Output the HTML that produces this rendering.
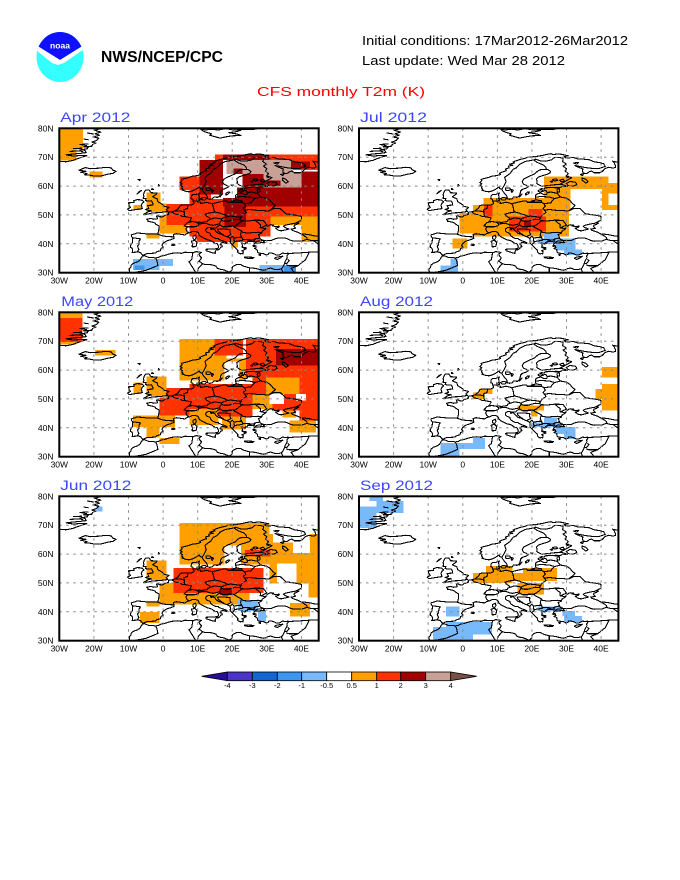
<!DOCTYPE html>
<html><head><meta charset="utf-8"><style>
html,body{margin:0;padding:0;background:#fff;}
svg{display:block;}
.o{fill:#ffa000}.r{fill:#ff3200}.d{fill:#a00000}.p{fill:#c8a096}.b{fill:#78b9fa}.c{fill:#3c96f0}.w{fill:#fff}
.ln{fill:none;stroke:#000;stroke-width:1.1;vector-effect:non-scaling-stroke;stroke-linejoin:round}
.lab{font-family:"Liberation Sans",sans-serif;font-size:8.5px;fill:#000}
.pt{font-family:"Liberation Sans",sans-serif;font-size:13.5px;fill:#3c46ff}
</style></head><body>
<svg width="680" height="880" viewBox="0 0 680 880" xmlns="http://www.w3.org/2000/svg">
<defs>
<path id="coast" class="ln" d="M-30,-68.6 L-28,-68.4 L-26,-68.9 L-24.5,-69.6 L-23,-70.2 L-22,-70.5 L-23.5,-70.6 L-26,-70.4 L-28,-70.8 L-26,-71.1 L-24,-71.3 L-22.2,-71.6 L-22.6,-72.4 L-24,-72.5 L-22,-72.9 L-21.6,-73.4 L-23,-73.6 L-20.6,-73.8 L-20.4,-74.4 L-19.4,-74.9 L-20.6,-75.2 L-19.2,-75.8 L-18.6,-76.6 L-20.2,-77 L-18.4,-77.6 L-19.6,-78.1 L-18,-78.7 L-19.8,-79.3 L-18.6,-79.7 L-17.6,-80
M-27,-72 L-24,-72.2 L-23,-71.8 M-26,-73 L-23.5,-73.1 M-22,-74 L-24,-74.4 L-21.5,-74.6 M-21.5,-76 L-23,-76.3 M-20,-78 L-22,-78.4
M-24.3,-65.5 L-22.5,-66.4 L-21,-66 L-20,-66.1 L-18.5,-66.2 L-16.5,-66.5 L-15,-66.3 L-14.6,-65.6 L-13.6,-65.1 L-14.5,-64.4 L-16,-64.1 L-18,-63.5 L-20,-63.5 L-21.5,-63.85 L-22.7,-63.9 L-22,-64.3 L-23.8,-64.8 L-22.3,-65.1 Z
M10.8,-79.8 L11.5,-79.1 L12.5,-78.6 L14,-78.1 L13.5,-77.6 L15,-77.1 L16.5,-76.6 L18,-77 L20,-77.4 L22.5,-77.5 L21.5,-78 L19,-78.5 L21,-78.8 L22.5,-79.3 L20,-79.5 L18,-79.9 L16,-79.4 L14,-79.7 L12.2,-79.4 Z M20.5,-80 L23,-79.6 L27,-79.7 L25.5,-80
M45,-68.2 L44.2,-68.4 L43.3,-68.6 L43.8,-68 L44.1,-67.2 L44.2,-66.5 L43.5,-66.2 L42.2,-66.5 L41.2,-66.1 L40.3,-65 L39.6,-64.6 L38,-64.6 L37.2,-65.2 L36.5,-64.9 L35.8,-64.3 L34.8,-64.5 L34.6,-65.3 L34.8,-65.9 L33.5,-66.5 L32.4,-67.1 L33.8,-66.8 L35.5,-66.4 L37.5,-66.1 L39.5,-66.1 L41.2,-66.8 L40.8,-67.7 L39.6,-68.1 L38,-68.4 L36.6,-69.1 L35,-69.3 L33.3,-69.4 L32,-69.9 L31,-69.8 L30,-69.7 L29.2,-70.1 L30.5,-70.5 L28.5,-71 L27.5,-71.1 L26,-70.9 L25.5,-71.2 L24,-70.9 L23,-70.6 L21.5,-70.3 L20,-70.1 L19,-70.1 L18,-69.6 L16.5,-69.2 L15.5,-68.8 L14.5,-68.3 L15,-68 L13.5,-67.6 L14.5,-67.2 L13.2,-66.9 L13.4,-66.3 L12.3,-65.9 L12.6,-65.3 L11.5,-64.9 L10.6,-64.4 L10.9,-64 L9.7,-63.6 L8.4,-63.4 L7.5,-63 L6.5,-62.7 L5.3,-62.3 L5.5,-61.8 L4.9,-61.2 L5.5,-60.8 L5,-60.3 L5.6,-59.8 L5.4,-59.3 L5.8,-58.9 L5.5,-58.6 L6.5,-58.2 L7.5,-58 L8.5,-58.3 L9.5,-58.9 L10.5,-59.7 L10.7,-59.1 L11.2,-59 L11.5,-58.4 L11.9,-57.7 L12.5,-56.9 L12.8,-56.3 L12.9,-55.6 L13.5,-55.4 L14.3,-55.6 L14.7,-56.2 L15.8,-56.1 L16.4,-56.6 L16.6,-57.4 L16.7,-58.2 L17.2,-58.8 L18.3,-59.3 L19,-59.8 L18.3,-60.3 L17.5,-60.7 L17.2,-61.5 L17.6,-62.4 L18.5,-63 L19.6,-63.6 L20.8,-64.2 L21.5,-65 L22.2,-65.6 L23.5,-65.8 L24.6,-65.7 L25.4,-65.1 L25.2,-64.5 L24.2,-64 L23,-63.6 L22,-63.2 L21.3,-62.5 L21.5,-61.5 L21.4,-60.9 L22,-60.4 L22.9,-59.9 L24,-60.1 L25.5,-60.3 L26.8,-60.5 L28.5,-60.6 L29.5,-60.2 L30.2,-59.9 L29,-59.9 L28.1,-59.5 L27,-59.4 L25.5,-59.5 L24,-59.4 L23.5,-59.1 L23.5,-58.5 L24.2,-58.3 L24.4,-57.5 L24.3,-57.1 L23.5,-57 L22.6,-57.6 L21.6,-57.3 L21,-56.8 L21,-56 L21.2,-55.3 L20.6,-54.9 L19.9,-54.9 L19.6,-54.4 L18.6,-54.4 L18.5,-54.8 L17.5,-54.8 L16.3,-54.5 L15,-54.1 L14.2,-53.9 L13.2,-54.2 L12.5,-54.4 L11.5,-54.1 L10.8,-53.9 L10.9,-54.4 L10,-54.5 L9.9,-55 L10.4,-55.8 L10.5,-56.4 L10.3,-56.9 L10.6,-57.6 L9.5,-57.1 L8.6,-57.1 L8.2,-56.6 L8.1,-55.6 L8.6,-55.4 L8.6,-54.9 L8.9,-54.3 L8.9,-53.9 L8.2,-53.5 L7,-53.5 L6,-53.45 L5,-53.3 L4.7,-52.7 L4.4,-52.2 L3.9,-51.8 L3.5,-51.4 L2.6,-51.1 L1.6,-50.9 L1.6,-50.2 L0.3,-49.7 L-0.1,-49.3 L-1.1,-49.4 L-1.3,-49.7 L-1.9,-49.7 L-1.6,-48.7 L-2.7,-48.5 L-3.5,-48.8 L-4.7,-48.5 L-4.3,-48 L-4.4,-47.8 L-3,-47.5 L-2.2,-47.1 L-2.1,-46.8 L-1.2,-46.2 L-1.2,-45.2 L-1.3,-44.3 L-1.5,-43.5 L-1.8,-43.4 L-3,-43.45 L-4.5,-43.4 L-6,-43.6 L-7.5,-43.75 L-8.3,-43.4 L-9.2,-43.1 L-9.1,-42.5 L-8.8,-42.1 L-8.8,-41.3 L-8.9,-40.4 L-9.4,-39.4 L-9.4,-38.7 L-9,-38.6 L-8.8,-38.1 L-8.8,-37.3 L-9,-37 L-8,-37.1 L-7.4,-37.2 L-6.5,-37 L-6.3,-36.6 L-6,-36.2 L-5.6,-36 L-5.2,-36.4 L-4.4,-36.7 L-3.4,-36.7 L-2.3,-36.8 L-1.7,-37.3 L-0.8,-37.6 L-0.6,-38.4 L0.1,-38.8 L-0.3,-39.4 L-0.1,-40 L0.7,-40.8 L1.3,-41.1 L2.2,-41.4 L3.2,-41.9 L3.1,-42.5 L3,-43.2 L3.8,-43.5 L4.6,-43.4 L5.3,-43.2 L6.3,-43.1 L7,-43.6 L7.7,-43.8 L8.4,-44.2 L9.3,-44.3 L9.9,-44.1 L10.2,-43.8 L10.5,-42.9 L11.1,-42.4 L12.1,-41.8 L12.9,-41.3 L13.6,-41.2 L14.3,-40.8 L14.9,-40.2 L15.6,-40.1 L15.9,-39.5 L16.1,-38.9 L15.8,-38.3 L15.7,-37.9 L16.1,-38 L16.5,-38.4 L16.6,-38.8 L17.1,-39 L17,-39.5 L16.5,-39.7 L16.6,-40.1 L17.1,-40.5 L17.9,-40.3 L18.4,-40.1 L18.5,-40.4 L18,-40.7 L17,-41.1 L16.1,-41.6 L16,-41.9 L15.1,-41.9 L14.4,-42.3 L13.8,-42.9 L13.6,-43.6 L12.6,-44.1 L12.3,-44.6 L12.4,-45.2 L13.1,-45.7 L13.7,-45.6 L13.9,-44.9 L14.3,-45.3 L14.9,-44.9 L15.3,-44.3 L16,-43.6 L16.9,-43.3 L17.5,-42.9 L18.5,-42.45 L19.1,-42.1 L19.4,-41.8 L19.5,-41.3 L19.4,-40.6 L19.5,-40.2 L20,-39.7 L20.3,-39.3 L20.7,-38.8 L21.1,-38.3 L21.6,-37.8 L21.6,-37.1 L21.9,-36.8 L22.4,-36.5 L22.8,-36.7 L23.1,-36.5 L23.2,-37.3 L22.8,-37.6 L23.4,-37.9 L24,-38.2 L23.3,-38.6 L22.8,-38.9 L23,-39.5 L22.6,-40.3 L23.3,-40.1 L23.7,-39.9 L23.9,-40.4 L24.3,-40.2 L24.4,-40.9 L25.4,-40.9 L26.2,-40.7 L26.8,-40.6 L27.5,-41 L28.5,-41.05 L29,-41.2 L28.3,-41.5 L28,-41.9 L27.8,-42.6 L27.6,-43.2 L28.5,-43.7 L28.7,-44.4 L29.2,-44.8 L29.7,-45.2 L29.9,-45.8 L30.6,-46.4 L31.2,-46.6 L32,-46.5 L31.6,-46.2 L32.6,-46 L33.6,-46.1 L33.4,-45.7 L32.5,-45.4 L33.5,-44.6 L34.3,-44.5 L35.3,-44.8 L36.4,-45.1 L35.8,-45.4 L35.2,-45.7 L34.8,-46.1 L35.3,-46.4 L36.3,-46.7 L37.5,-47 L38.6,-47.2 L39.3,-47.2 L38.6,-46.7 L38,-46.5 L37.8,-46 L38.3,-45.4 L37.6,-45.2 L37,-45.2 L37.3,-44.7 L38,-44.4 L39,-44 L39.9,-43.4 L40.7,-42.9 L41.5,-42.2 L41.7,-41.6 L41.2,-41.4 L40.2,-40.95 L39,-41 L38,-40.9 L37,-41.15 L36,-41.7 L35.1,-42.05 L34.2,-41.95 L33.3,-42 L32.3,-41.7 L31.4,-41.2 L30.3,-41.2 L29.2,-41.2 L29.1,-40.8 L29.5,-40.4 L28.5,-40.4 L27.5,-40.3 L27,-40.3 L26.4,-40.1 L26.2,-39.5 L26.8,-39.3 L26.9,-38.7 L26.4,-38.4 L27,-38.1 L27.3,-37.7 L27.3,-37.1 L27.6,-36.8 L28.3,-36.7 L29.1,-36.6 L29.7,-36.2 L30.4,-36.3 L30.6,-36.8 L31.4,-36.8 L32.2,-36.5 L32.8,-36.1 L33.7,-36.2 L34.6,-36.8 L35.5,-36.6 L36.1,-36.8 L36.2,-36.4 L35.8,-35.8 L35.9,-35.2 L35.6,-34.5 L35.3,-33.9 L35.1,-33.1 L34.9,-32.6 L34.7,-32 L34.3,-31.4 L33.5,-31.1 L32.6,-31.1 L32.1,-31.2 L31.5,-31.5 L31,-31.6 L30.3,-31.4 L29.6,-31 L29,-30.85 L28,-31.1 L27,-31.4 L26,-31.6 L25,-31.7 L24,-32 L23.2,-32.3 L22.5,-32.8 L21.5,-32.9 L20.5,-32.4 L20,-31.8 L20,-31 L19.5,-30.4 L19,-30.2 L18.5,-30.5 L17.5,-31 L16.5,-31.2 L15.7,-31.5 L15.3,-32.3 L14.2,-32.7 L13,-32.9 L12,-32.9 L11.3,-33.2 L10.8,-33.7 L10.3,-34 L10.9,-34.6 L11.1,-35.2 L10.6,-35.8 L10.4,-36.5 L11.1,-37 L10.2,-37.2 L9.5,-37.3 L8.7,-36.9 L7.6,-37 L6.3,-37.1 L5.3,-36.7 L4.1,-36.9 L3,-36.8 L1.8,-36.5 L0.5,-36 L-0.5,-35.8 L-1.3,-35.3 L-2.2,-35.1 L-3,-35.3 L-4,-35.2 L-4.8,-35.6 L-5.4,-35.9 L-5.9,-35.8 L-6.3,-35.2 L-6.7,-34.3 L-7.5,-33.7 L-8.5,-33.3 L-9.2,-32.6 L-9.3,-31.9 L-9.8,-31.3 L-9.7,-30.5 L-9.6,-30
M-5.7,-50.1 L-4,-50.4 L-3,-50.7 L-1,-50.8 L1.4,-51.2 L0.9,-51.8 L1.7,-52.6 L0.3,-53 L-0.1,-53.6 L-1.5,-54.6 L-1.7,-55.6 L-2.5,-56 L-3,-56.3 L-2,-57.1 L-1.8,-57.6 L-3.5,-57.7 L-4,-58.6 L-5,-58.6 L-5.4,-58 L-5.7,-57 L-5.5,-56.4 L-5.8,-55.8 L-4.9,-55.7 L-5.1,-55 L-4.4,-54.8 L-3.4,-54.9 L-3,-54.2 L-2.9,-53.4 L-4.5,-53.3 L-4.3,-52.8 L-4.1,-52.3 L-5.1,-51.9 L-4.2,-51.6 L-3.3,-51.4 L-4.2,-51.2 Z
M-6,-52.2 L-6.3,-53.4 L-6,-54.1 L-5.5,-54.5 L-6.2,-55.2 L-7.5,-55.3 L-8.5,-54.9 L-8.4,-54.3 L-10,-54.2 L-9.8,-53.3 L-9.4,-52.6 L-10.3,-52 L-9.8,-51.5 L-8.2,-51.8 Z
M-7.5,-57.3 L-6.2,-58.5 L-6.9,-58.1 Z M-7.2,-62.3 L-6.6,-62.2 L-6.8,-61.9 Z M-1.3,-60.6 L-1,-60.1 L-1.4,-59.9 Z M-3.2,-59.2 L-2.8,-58.8 L-3.3,-58.8 Z
M9.4,-43 L9.6,-42.3 L9.2,-41.4 L8.6,-41.8 L8.6,-42.5 Z M9.2,-41.2 L9.8,-40.5 L9.6,-39.2 L9,-39 L8.4,-39 L8.5,-40 L8.2,-40.9 Z
M12.4,-38.1 L15.6,-38.3 L15.1,-37.3 L15.1,-36.7 L14.3,-36.9 L12.5,-37.6 Z M23.5,-35.5 L24.3,-35.4 L26.3,-35.3 L26,-35 L24.8,-34.9 L23.6,-35.2 Z
M32.3,-35.1 L32.9,-35.4 L34.6,-35.7 L33.9,-35.1 L33,-34.6 L32.3,-34.9 Z M2.4,-39.6 L3.2,-39.9 L3.4,-39.6 L2.8,-39.35 Z
M18.1,-57.3 L18.7,-57.9 L19.3,-57.9 L18.8,-57.2 L18.2,-56.9 Z M16.4,-56.2 L17.1,-57.3 L16.7,-56.6 Z M12.2,-56.1 L12.6,-55.7 L12.2,-55.2 L11.3,-55.2 L10.9,-55.7 L11.6,-56 Z M9.8,-55.5 L10.6,-55.5 L10.6,-55 L9.9,-55.1 Z
M22,-58.6 L23,-58.6 L23.3,-58.2 L22.2,-57.9 L21.8,-58.3 Z M22.4,-59 L23,-59.1 L22.8,-58.7 Z M19.6,-60.4 L20.3,-60.4 L20.1,-60 Z
M27.7,-36.2 L28.2,-36.4 L28.1,-35.9 Z M25.9,-39.3 L26.6,-39.3 L26.4,-39 Z M22.8,-38.9 L24.1,-38.6 L23.8,-38.3 L23,-38.7 Z
M29.9,-60.8 L31,-61.6 L32.6,-61.3 L33,-60.6 L32.3,-60.1 L31,-60 L30.3,-60.3 Z M34.5,-62.8 L35.5,-62.4 L36.2,-61.5 L35.5,-61 L35,-61.6 L34.5,-62 Z
M12.4,-59.3 L13.6,-59.3 L14,-58.8 L13.2,-58.4 L12.4,-58.6 Z M14.2,-58.8 L14.6,-58.5 L14.2,-57.8 L14,-58.2 Z M27.4,-59 L28,-58.9 L28,-58 L27.4,-57.9 L27.2,-58.5 Z
M26,-62.3 L27,-62.5 L27.5,-62 L26.5,-61.7 Z M28,-62 L29,-62.4 L29.5,-61.6 L28.5,-61.5 Z M25.3,-61.6 L26,-61.8 L25.8,-61.3 Z M30,-63.2 L30.6,-63.4 L30.4,-62.9 Z M34,-64 L35,-64.3 L34.6,-63.6 Z M32,-68 L33.5,-68.2 L33,-67.6 Z"/>
<path id="bord" class="ln" d="M11.4,-59 L12,-60.3 L12.5,-61.5 L12.1,-63 L13.8,-64.5 L14.5,-65.8 L15.5,-66.3 L16.5,-67.6 L18,-68.5 L20.5,-69.05 L21,-69.3 L22.5,-68.7 L24,-68.6 L25.7,-69.1 L26.5,-69.9 L28,-69.9 L29,-69.6 L29,-69.05
M20.5,-69.05 L21.5,-68.2 L23.5,-67.2 L24,-66.5 L24.2,-65.8
M29,-69.05 L28.8,-68.5 L30,-67.6 L29,-66.9 L30,-66 L29.6,-65.2 L30.5,-64.3 L29.9,-63.5 L31.5,-62.9 L29,-61.2 L27.8,-60.5
M28,-59.5 L27.5,-58.9 M27.5,-57.9 L27.3,-57.5 M24.3,-57.8 L25.6,-57.9 L27.3,-57.5 L28.2,-56.2 L26.6,-55.7
M21,-56.1 L22.5,-56.4 L25,-56.2 L26.6,-55.7 L25.8,-54.8 L25.5,-54.2 L23.5,-53.9
M21.2,-55.2 L22.8,-54.9 L22.8,-54.4 M19.6,-54.4 L22.8,-54.4 L23.5,-53.9
M28.2,-56.2 L30,-55.8 L31,-55 L31.8,-53.8 L32.5,-53.3 L31.5,-52.2 L30.5,-51.3
M23.6,-51.6 L25,-51.9 L27,-51.6 L28.5,-51.6 L30.5,-51.3
M23.5,-53.9 L23.9,-53 L23.2,-52.3 L23.6,-51.6 L24.1,-50.8 L23.5,-50.4 L22.6,-49.5 L22.6,-49.1
M22.6,-49.1 L21,-49.4 L19.5,-49.6 L18.8,-49.5 L18,-50 L17,-50.3 L16.5,-50.6 L15,-51
M14.2,-53.9 L14.4,-53.3 L14.6,-52.6 L14.7,-51.8 L15,-51 L13.5,-50.7 L12.2,-50.3 L12.5,-49.7 L13.5,-48.9 L13.7,-48.5
M13.7,-48.5 L13,-48.2 L12.8,-47.7 L11.2,-47.4 L10.5,-47.5 L9.6,-47.5 L8.6,-47.7 L7.6,-47.6 L8.2,-49 L6.4,-49.4 L6.1,-50.1 L6.2,-50.7 L6,-51.8 L7,-52.2 L7.2,-53.2
M8.6,-54.9 L9.8,-54.8 M6.4,-49.5 L5.5,-49.5 L4.8,-50 L3.5,-50.3 L2.5,-51.1 M3.4,-51.4 L4.5,-51.4 L5.8,-51.2 L6.1,-50.8
M13.7,-48.5 L15,-49 L16.9,-48.6 L17.5,-49 L18.8,-49.5
M16.9,-48.1 L17.8,-47.8 L18.8,-47.8 L20,-48.2 L21,-48.5 L22.1,-48.4 L22.6,-49.1
M16.9,-48.6 L16.9,-48.1 L16.5,-47.5 L16.3,-46.9 L14.5,-46.4 L13.7,-46.5 L12.4,-47.1 L10.5,-46.9 L9.6,-47.5
M10.5,-46.9 L10.1,-46.2 L9,-45.9 L7.8,-45.9 L7,-45.9 L6.1,-46.2 L7,-47.3 L7.6,-47.6 M7,-45.9 L6.6,-45.1 L7,-44.2 L7.5,-43.8
M-1.8,-43.4 L0,-42.7 L1.5,-42.5 L3.2,-42.4
M-8.9,-41.9 L-8.1,-42 L-6.5,-41.7 L-6.9,-41 L-7,-39.7 L-7.4,-39.2 L-7,-38 L-7.5,-37.2
M22.1,-48.4 L22.8,-48 L21.8,-47 L21,-46.3 L20.3,-46.1 L19,-46.1 L18.8,-45.9 L17.3,-45.9 L16.5,-46.5 L16.3,-46.9
M16.5,-46.5 L15.7,-46 L15.3,-45.5 L13.6,-45.5
M15.7,-45.2 L16.5,-45.2 L19,-45 L19.4,-44.9 L19.3,-44 L19.6,-43.2 L18.5,-42.5 M15.7,-45.2 L16,-44.3 L17.5,-43
M19.4,-41.9 L20,-42.6 L20.5,-42 L20.5,-41 L20.8,-40.8 M20.5,-42 L22.4,-42.3 L22.9,-42
M22.8,-48 L24.5,-47.9 L26.6,-48.2 L28.2,-46.6 L28.1,-45.6 L29.7,-45.2 M26.6,-48.2 L29,-48.1 L30,-46.5 L28.2,-45.5
M20.3,-46.1 L21.5,-45.2 L22.7,-44.5 L23,-44 L24.5,-43.7 L26,-43.9 L27.5,-44 L28.6,-43.8
M22.7,-44.5 L22.4,-43.2 L22.9,-42 L23,-41.4 L24,-41.5 L26,-41.3 L26.6,-41.7 L28,-42 M26.6,-41.7 L26.3,-40.9
M20,-39.7 L20.8,-40.8 L22.9,-41.2 L23,-41.4
M30.5,-51.3 L32,-52.2 L33.8,-52.3 L35.5,-50.4 L38,-50 L40,-49.5 L40,-48.2 L38.2,-47.1
M39.7,-43.5 L42,-43.2 L44,-42.7 L45,-42.6 M41.6,-41.5 L43,-41.1 L45,-41.2 M43.5,-41.1 L44.8,-40 L45,-39.8
M36,-36.6 L37,-36.7 L40,-36.9 L42.3,-37.1 L44.8,-37.2 L45,-37.4 M42.3,-37.1 L41.2,-34.5 L39,-32.4 L36.5,-32.4 L35.6,-32.7 M36,-34.6 L36.5,-34.2 L35.9,-33.3 L35.1,-33.1 M39,-32.4 L37,-31.5 L38,-30
M34.2,-31.3 L34.9,-29.5 M25,-31.6 L25,-30 M11.5,-33.2 L10.2,-31.5 L10,-30.5 M8.6,-36.9 L8.3,-34.6 L7.5,-33.8 L9.5,-30
M-2.2,-35.1 L-1.8,-34.3 L-1.5,-32.5 L-3.5,-31.5 L-5,-30.8 L-8.6,-30"/>
<g id="grid" fill="none" stroke="#888" stroke-width="1" stroke-dasharray="2.5 4.5">
<path d="M34.6,0V144.4M69.2,0V144.4M103.8,0V144.4M138.4,0V144.4M172.9,0V144.4M207.5,0V144.4M242.1,0V144.4M0,28.9H259.4M0,57.8H259.4M0,86.6H259.4M0,115.5H259.4"/>
</g>
<clipPath id="lc"><ellipse cx="60" cy="57" rx="23.5" ry="25"/></clipPath>
</defs>

<!-- header -->
<g clip-path="url(#lc)">
<rect x="36" y="31" width="48" height="52" fill="#33ffff"/>
<path d="M36,31 H84 V45 L60,60 L36,45 Z" fill="#1010ff"/>
<path d="M36,45 L60,60 L84,45 L84,49 L64,63 L58,65 L52,63 L36,50 Z" fill="#fff"/>
</g>
<text x="50" y="48.5" font-family="Liberation Sans,sans-serif" font-size="8" font-weight="bold" fill="#fff" textLength="20" lengthAdjust="spacingAndGlyphs">noaa</text>
<text x="101" y="62" font-family="Liberation Sans,sans-serif" font-size="16" font-weight="bold" fill="#000" textLength="122" lengthAdjust="spacingAndGlyphs">NWS/NCEP/CPC</text>
<text x="362" y="45" font-family="Liberation Sans,sans-serif" font-size="13" fill="#000" textLength="266" lengthAdjust="spacingAndGlyphs">Initial conditions: 17Mar2012-26Mar2012</text>
<text x="362" y="65" font-family="Liberation Sans,sans-serif" font-size="13" fill="#000" textLength="203" lengthAdjust="spacingAndGlyphs">Last update: Wed Mar 28 2012</text>
<text x="257" y="96" font-family="Liberation Sans,sans-serif" font-size="13" fill="#f00" textLength="168" lengthAdjust="spacingAndGlyphs">CFS monthly T2m (K)</text>

<!-- APR -->
<g transform="translate(59.3,128.3)">
<svg x="0" y="0" width="259.4" height="144.4" viewBox="-30 -80 75 50" preserveAspectRatio="none" shape-rendering="crispEdges">
<rect class="o" x="-30" y="-80" width="5" height="11.2"/><rect class="o" x="-25" y="-80" width="1.8" height="7.3"/>
<rect class="o" x="-21.3" y="-65" width="3.8" height="2"/><rect class="o" x="-8.5" y="-53.4" width="2.2" height="1.7"/>
<rect class="o" x="-4.8" y="-57.7" width="4" height="6.6"/><rect class="o" x="-0.8" y="-54" width="1.8" height="2.9"/>
<rect class="o" x="-1" y="-50" width="8" height="6.4"/><rect class="o" x="-4.8" y="-43.8" width="3.8" height="1.9"/>
<rect class="o" x="31" y="-49.5" width="14" height="3"/><rect class="o" x="40" y="-46.5" width="5" height="5.8"/>
<rect class="o" x="19.7" y="-40.7" width="1.9" height="1.9"/><rect class="o" x="15" y="-42.5" width="2.5" height="1.8"/>
<rect class="r" x="1" y="-53.8" width="6.7" height="7.3"/><rect class="r" x="7.7" y="-55.5" width="23.3" height="13"/>
<rect class="r" x="9.6" y="-42.5" width="18.4" height="1.8"/><rect class="r" x="7.7" y="-58.6" width="6.2" height="3.1"/>
<rect class="r" x="4.8" y="-63.3" width="5.8" height="4.7"/><rect class="r" x="31" y="-55" width="14" height="5.5"/>
<rect class="r" x="15" y="-71" width="30" height="2"/><rect class="r" x="37.5" y="-69" width="7.5" height="3.5"/>
<rect class="d" x="10.6" y="-69" width="6.7" height="12"/><rect class="d" x="17.3" y="-71" width="13.5" height="2"/>
<rect class="d" x="17.3" y="-59.5" width="27.7" height="6.5"/><rect class="d" x="17.8" y="-53" width="6.2" height="7.1"/>
<rect class="d" x="23" y="-64.2" width="7.8" height="4.7"/><rect class="d" x="40" y="-65" width="5" height="7"/>
<rect class="p" x="18.3" y="-69" width="19.2" height="4.8"/><rect class="p" x="29" y="-64.5" width="11" height="5"/>
<rect class="d" x="20.3" y="-66" width="2.7" height="1.8"/><rect class="d" x="37" y="-68.5" width="5.5" height="2.5"/>
<rect class="d" x="27" y="-62" width="7" height="2"/>
<rect class="w" x="17.3" y="-63" width="4.1" height="7.2"/>
<rect class="b" x="-8.7" y="-34.7" width="11.6" height="2.4"/><rect class="b" x="-8.7" y="-32.3" width="7.7" height="1.4"/>
<rect class="c" x="-8.2" y="-32.5" width="2.9" height="1.6"/>
<rect class="b" x="27.9" y="-32.7" width="10.6" height="2.7"/><rect class="c" x="35" y="-32.4" width="3.5" height="2.4"/>
<use href="#coast"/><use href="#bord"/>
</svg>
<use href="#grid"/>
<rect x="0" y="0" width="259.4" height="144.4" fill="none" stroke="#000" stroke-width="2"/>
<text x="1" y="-6.3" class="pt" textLength="70" lengthAdjust="spacingAndGlyphs">Apr 2012</text>
<g class="lab" text-anchor="end"><text x="-5.8" y="3">80N</text><text x="-5.8" y="31.9">70N</text><text x="-5.8" y="60.8">60N</text><text x="-5.8" y="89.6">50N</text><text x="-5.8" y="118.5">40N</text><text x="-5.8" y="147.4">30N</text></g>
<g class="lab" text-anchor="middle"><text x="0" y="155">30W</text><text x="34.6" y="155">20W</text><text x="69.2" y="155">10W</text><text x="103.8" y="155">0</text><text x="138.4" y="155">10E</text><text x="172.9" y="155">20E</text><text x="207.5" y="155">30E</text><text x="242.1" y="155">40E</text></g>
</g>

<!-- JUL -->
<g transform="translate(359,128.3)">
<svg x="0" y="0" width="259.4" height="144.4" viewBox="-30 -80 75 50" preserveAspectRatio="none" shape-rendering="crispEdges">
<rect class="o" x="23.5" y="-63.3" width="18.7" height="11.6"/>
<rect class="o" x="-1" y="-50.6" width="7" height="7"/><rect class="o" x="3" y="-53.4" width="27.7" height="10.9"/>
<rect class="o" x="6" y="-55.8" width="18" height="2.4"/><rect class="o" x="-2.9" y="-41.9" width="4.3" height="3.5"/>
<rect class="o" x="40.3" y="-53.4" width="4.7" height="1.7"/><rect class="o" x="40.3" y="-61" width="4.7" height="3.5"/>
<rect class="w" x="31.2" y="-59" width="9.1" height="7.3"/>
<rect class="r" x="6.2" y="-53.4" width="2.4" height="4"/><rect class="r" x="13.4" y="-49.4" width="10.6" height="5.2"/>
<rect class="r" x="19" y="-52" width="4" height="2.6"/><rect class="d" x="17.7" y="-47.7" width="2" height="1.7"/>
<rect class="b" x="23.5" y="-43.6" width="4" height="1.8"/><rect class="b" x="21.6" y="-41.8" width="11" height="1.8"/>
<rect class="b" x="26.9" y="-40" width="5.7" height="2.3"/><rect class="b" x="29.3" y="-38.1" width="5.2" height="2"/>
<rect class="b" x="-6.4" y="-32.5" width="5" height="2.5"/><rect class="b" x="-3.5" y="-35" width="2.1" height="2.5"/>
<use href="#coast"/><use href="#bord"/>
</svg>
<use href="#grid"/>
<rect x="0" y="0" width="259.4" height="144.4" fill="none" stroke="#000" stroke-width="2"/>
<text x="1" y="-6.3" class="pt" textLength="67" lengthAdjust="spacingAndGlyphs">Jul 2012</text>
<g class="lab" text-anchor="end"><text x="-5.8" y="3">80N</text><text x="-5.8" y="31.9">70N</text><text x="-5.8" y="60.8">60N</text><text x="-5.8" y="89.6">50N</text><text x="-5.8" y="118.5">40N</text><text x="-5.8" y="147.4">30N</text></g>
<g class="lab" text-anchor="middle"><text x="0" y="155">30W</text><text x="34.6" y="155">20W</text><text x="69.2" y="155">10W</text><text x="103.8" y="155">0</text><text x="138.4" y="155">10E</text><text x="172.9" y="155">20E</text><text x="207.5" y="155">30E</text><text x="242.1" y="155">40E</text></g>
</g>

<!-- MAY -->
<g transform="translate(59.3,312.3)">
<svg x="0" y="0" width="259.4" height="144.4" viewBox="-30 -80 75 50" preserveAspectRatio="none" shape-rendering="crispEdges">
<rect class="o" x="-30" y="-80" width="6.7" height="2"/><rect class="o" x="-30" y="-69.8" width="5" height="1"/>
<rect class="o" x="-19.7" y="-67" width="6" height="2"/><rect class="o" x="-8.5" y="-55.7" width="2.2" height="4"/>
<rect class="o" x="-4.8" y="-57.7" width="5.8" height="6.6"/><rect class="o" x="-8.7" y="-44.2" width="12.1" height="4"/>
<rect class="o" x="-4.8" y="-40.2" width="3.8" height="3.5"/><rect class="o" x="-1" y="-36.5" width="5.8" height="2.1"/>
<rect class="o" x="4.8" y="-70.8" width="13.5" height="14.5"/><rect class="o" x="18.3" y="-64" width="5.7" height="7.7"/>
<rect class="o" x="7.7" y="-46.5" width="8.3" height="5.5"/><rect class="o" x="17" y="-44" width="7" height="4.5"/>
<rect class="o" x="29.8" y="-57.5" width="9.6" height="5.8"/><rect class="o" x="25.9" y="-51.7" width="5.8" height="5.2"/>
<rect class="o" x="36.5" y="-42.5" width="7.7" height="4.1"/><rect class="o" x="34.6" y="-46" width="3.9" height="2.4"/>
<rect class="r" x="-30" y="-78" width="6.7" height="8.2"/><rect class="r" x="-1" y="-50.5" width="8.7" height="6.3"/>
<rect class="r" x="1" y="-53.8" width="6.7" height="3.3"/><rect class="r" x="7.7" y="-55.2" width="18.2" height="8.7"/>
<rect class="r" x="16" y="-46.5" width="9.9" height="2.5"/><rect class="r" x="14.9" y="-70.8" width="8.2" height="5.8"/>
<rect class="r" x="24" y="-70.8" width="21" height="13.3"/><rect class="r" x="25.9" y="-57.5" width="3.9" height="5.8"/>
<rect class="r" x="39.4" y="-57.5" width="5.6" height="15"/><rect class="r" x="31.7" y="-51.7" width="7.7" height="5.7"/>
<rect class="d" x="32.7" y="-67.3" width="12.3" height="5.8"/>
<rect class="w" x="17.8" y="-63" width="4.2" height="6.7"/><rect class="w" x="30.8" y="-51.7" width="4.1" height="3.5"/>
<rect class="w" x="38.5" y="-51.7" width="2.9" height="2.3"/>
<use href="#coast"/><use href="#bord"/>
</svg>
<use href="#grid"/>
<rect x="0" y="0" width="259.4" height="144.4" fill="none" stroke="#000" stroke-width="2"/>
<text x="2" y="-6.3" class="pt" textLength="72" lengthAdjust="spacingAndGlyphs">May 2012</text>
<g class="lab" text-anchor="end"><text x="-5.8" y="3">80N</text><text x="-5.8" y="31.9">70N</text><text x="-5.8" y="60.8">60N</text><text x="-5.8" y="89.6">50N</text><text x="-5.8" y="118.5">40N</text><text x="-5.8" y="147.4">30N</text></g>
<g class="lab" text-anchor="middle"><text x="0" y="155">30W</text><text x="34.6" y="155">20W</text><text x="69.2" y="155">10W</text><text x="103.8" y="155">0</text><text x="138.4" y="155">10E</text><text x="172.9" y="155">20E</text><text x="207.5" y="155">30E</text><text x="242.1" y="155">40E</text></g>
</g>

<!-- AUG -->
<g transform="translate(359,312.3)">
<svg x="0" y="0" width="259.4" height="144.4" viewBox="-30 -80 75 50" preserveAspectRatio="none" shape-rendering="crispEdges">
<rect class="o" x="2.9" y="-52.3" width="3.4" height="2.3"/><rect class="o" x="4.8" y="-53.7" width="3.8" height="2"/>
<rect class="o" x="15.8" y="-47.7" width="7.7" height="1.7"/><rect class="o" x="19.7" y="-46" width="1.9" height="2"/>
<rect class="o" x="40.3" y="-61" width="4.7" height="3.5"/><rect class="o" x="40.3" y="-55.2" width="4.7" height="9.2"/>
<rect class="o" x="38.4" y="-53.4" width="2" height="3.5"/>
<rect class="b" x="23.5" y="-43.6" width="3.8" height="1.7"/><rect class="b" x="19.7" y="-41.9" width="9.1" height="1.7"/>
<rect class="b" x="26.9" y="-40.2" width="5.7" height="2.3"/><rect class="b" x="29.3" y="-37.9" width="3.3" height="1.8"/>
<rect class="b" x="-6.4" y="-34.7" width="5.45" height="4.4"/><rect class="b" x="-0.95" y="-34.7" width="3.85" height="2"/>
<rect class="b" x="2.9" y="-36.5" width="3.6" height="3.8"/>
<use href="#coast"/><use href="#bord"/>
</svg>
<use href="#grid"/>
<rect x="0" y="0" width="259.4" height="144.4" fill="none" stroke="#000" stroke-width="2"/>
<text x="1" y="-6.3" class="pt" textLength="73" lengthAdjust="spacingAndGlyphs">Aug 2012</text>
<g class="lab" text-anchor="end"><text x="-5.8" y="3">80N</text><text x="-5.8" y="31.9">70N</text><text x="-5.8" y="60.8">60N</text><text x="-5.8" y="89.6">50N</text><text x="-5.8" y="118.5">40N</text><text x="-5.8" y="147.4">30N</text></g>
<g class="lab" text-anchor="middle"><text x="0" y="155">30W</text><text x="34.6" y="155">20W</text><text x="69.2" y="155">10W</text><text x="103.8" y="155">0</text><text x="138.4" y="155">10E</text><text x="172.9" y="155">20E</text><text x="207.5" y="155">30E</text><text x="242.1" y="155">40E</text></g>
</g>

<!-- JUN -->
<g transform="translate(59.3,496.3)">
<svg x="0" y="0" width="259.4" height="144.4" viewBox="-30 -80 75 50" preserveAspectRatio="none" shape-rendering="crispEdges">
<rect class="b" x="-19.2" y="-76.5" width="1.7" height="1.7"/>
<rect class="o" x="4.8" y="-70.8" width="26" height="14.5"/><rect class="o" x="30.8" y="-67" width="14.2" height="17.2"/>
<rect class="o" x="-4.8" y="-57.7" width="5.8" height="6.6"/><rect class="o" x="-1" y="-50" width="8.7" height="7.5"/>
<rect class="o" x="-4.8" y="-43.8" width="3.8" height="1.9"/><rect class="o" x="-6.7" y="-40" width="5.7" height="3.8"/>
<rect class="o" x="7.7" y="-46.5" width="17.3" height="4"/><rect class="o" x="36.7" y="-43" width="5.8" height="4.7"/>
<rect class="o" x="42" y="-50" width="3" height="5"/>
<rect class="w" x="17.8" y="-63" width="4.8" height="7.2"/><rect class="w" x="32.9" y="-56.7" width="5.7" height="6.9"/>
<rect class="w" x="37.6" y="-64.9" width="4.9" height="4.6"/><rect class="w" x="31.8" y="-67" width="10.5" height="3"/>
<rect class="r" x="3" y="-55.2" width="26" height="8.7"/><rect class="r" x="23.7" y="-61.4" width="7.3" height="2.3"/>
<rect class="d" x="16.5" y="-48.2" width="3.4" height="2.4"/>
<rect class="b" x="21.7" y="-44.1" width="5.8" height="3.9"/><rect class="b" x="27.5" y="-40.2" width="2.3" height="3.5"/>
<use href="#coast"/><use href="#bord"/>
</svg>
<use href="#grid"/>
<rect x="0" y="0" width="259.4" height="144.4" fill="none" stroke="#000" stroke-width="2"/>
<text x="1" y="-6.3" class="pt" textLength="71" lengthAdjust="spacingAndGlyphs">Jun 2012</text>
<g class="lab" text-anchor="end"><text x="-5.8" y="3">80N</text><text x="-5.8" y="31.9">70N</text><text x="-5.8" y="60.8">60N</text><text x="-5.8" y="89.6">50N</text><text x="-5.8" y="118.5">40N</text><text x="-5.8" y="147.4">30N</text></g>
<g class="lab" text-anchor="middle"><text x="0" y="155">30W</text><text x="34.6" y="155">20W</text><text x="69.2" y="155">10W</text><text x="103.8" y="155">0</text><text x="138.4" y="155">10E</text><text x="172.9" y="155">20E</text><text x="207.5" y="155">30E</text><text x="242.1" y="155">40E</text></g>
</g>

<!-- SEP -->
<g transform="translate(359,496.3)">
<svg x="0" y="0" width="259.4" height="144.4" viewBox="-30 -80 75 50" preserveAspectRatio="none" shape-rendering="crispEdges">
<rect class="b" x="-27" y="-80" width="4" height="1.7"/><rect class="b" x="-24.9" y="-78.3" width="7.7" height="4.1"/>
<rect class="b" x="-30" y="-76.5" width="5.1" height="7.5"/>
<rect class="o" x="2.9" y="-53.4" width="3.8" height="3.4"/><rect class="o" x="6.7" y="-55.8" width="7.7" height="5.8"/>
<rect class="o" x="14.4" y="-53.4" width="3" height="2.8"/><rect class="o" x="17.4" y="-55.2" width="9.9" height="4.6"/>
<rect class="o" x="15.8" y="-50" width="7.7" height="4"/>
<rect class="b" x="-4.8" y="-41.9" width="3.8" height="3.5"/><rect class="b" x="-4.8" y="-36.5" width="3.8" height="1.8"/>
<rect class="b" x="-1.2" y="-36.5" width="9.6" height="4.3"/><rect class="b" x="-8.6" y="-34.7" width="11.5" height="4.7"/>
<rect class="b" x="21.6" y="-41.9" width="7.2" height="1.7"/><rect class="b" x="28.8" y="-40.2" width="3.6" height="1.7"/>
<rect class="b" x="29.3" y="-38.5" width="5.2" height="2"/>
<use href="#coast"/><use href="#bord"/>
</svg>
<use href="#grid"/>
<rect x="0" y="0" width="259.4" height="144.4" fill="none" stroke="#000" stroke-width="2"/>
<text x="1" y="-6.3" class="pt" textLength="73" lengthAdjust="spacingAndGlyphs">Sep 2012</text>
<g class="lab" text-anchor="end"><text x="-5.8" y="3">80N</text><text x="-5.8" y="31.9">70N</text><text x="-5.8" y="60.8">60N</text><text x="-5.8" y="89.6">50N</text><text x="-5.8" y="118.5">40N</text><text x="-5.8" y="147.4">30N</text></g>
<g class="lab" text-anchor="middle"><text x="0" y="155">30W</text><text x="34.6" y="155">20W</text><text x="69.2" y="155">10W</text><text x="103.8" y="155">0</text><text x="138.4" y="155">10E</text><text x="172.9" y="155">20E</text><text x="207.5" y="155">30E</text><text x="242.1" y="155">40E</text></g>
</g>

<!-- legend -->
<g stroke="#000" stroke-width="0.8">
<polygon points="201.7,676.3 227.3,672 227.3,680.7" fill="#2a0c9c"/>
<rect x="227.3" y="672" width="25" height="8.7" fill="#4b34c8"/>
<rect x="252.3" y="672" width="25" height="8.7" fill="#1464d2"/>
<rect x="277.3" y="672" width="24.4" height="8.7" fill="#3c96f0"/>
<rect x="301.7" y="672" width="25" height="8.7" fill="#78b9fa"/>
<rect x="326.7" y="672" width="25" height="8.7" fill="#ffffff"/>
<rect x="351.7" y="672" width="25" height="8.7" fill="#ffa000"/>
<rect x="376.7" y="672" width="24" height="8.7" fill="#ff3200"/>
<rect x="400.7" y="672" width="25" height="8.7" fill="#a00000"/>
<rect x="425.7" y="672" width="25" height="8.7" fill="#c8a096"/>
<polygon points="450.7,672 476.7,676.3 450.7,680.7" fill="#785046"/>
</g>
<g font-family="Liberation Sans,sans-serif" font-size="7.5" text-anchor="middle" fill="#000">
<text x="227.3" y="688">-4</text><text x="252.3" y="688">-3</text><text x="277.3" y="688">-2</text><text x="301.7" y="688">-1</text><text x="326.7" y="688">-0.5</text><text x="351.7" y="688">0.5</text><text x="376.7" y="688">1</text><text x="400.7" y="688">2</text><text x="425.7" y="688">3</text><text x="450.7" y="688">4</text>
</g>
</svg>
</body></html>
